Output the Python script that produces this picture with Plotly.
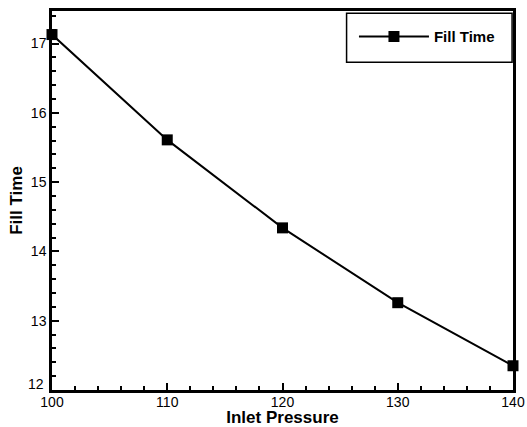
import plotly.graph_objects as go

inlet_pressure = [100, 110, 120, 130, 140]
fill_time = [17.13, 15.61, 14.34, 13.26, 12.35]
series_name = "Fill Time"
x_title = "Inlet Pressure"
y_title = "Fill Time"
y_tick_values = [12, 13, 14, 15, 16, 17]
y_tick_labels = ["12", "13", "14", "15", "16", "17"]

fig = go.Figure()
fig.add_trace(go.Scatter(
    x=inlet_pressure, y=fill_time, name=series_name,
    mode="lines+markers",
    line=dict(color="black", width=2),
    marker=dict(symbol="square", size=11, color="black"),
    cliponaxis=False,
))

font_family = "Liberation Sans, Arial, Helvetica, sans-serif"

# The lowest y label sits slightly raised in the reference (to clear the "100" label)
shown_labels = [""] + y_tick_labels[1:]

fig.update_layout(
    width=527, height=427,
    margin=dict(l=52, r=14, t=11, b=37),
    paper_bgcolor="white", plot_bgcolor="white",
    font=dict(family=font_family, color="black", size=14),
    showlegend=True,
    legend=dict(
        x=0.655, xanchor="left", y=0.932, yanchor="middle",
        borderwidth=0, bgcolor="rgba(0,0,0,0)",
        font=dict(size=15, family=font_family, weight="bold"),
        itemwidth=70,
    ),
    shapes=[dict(
        type="rect", xref="paper", yref="paper",
        x0=0.639, x1=0.998, y0=0.865, y1=0.994,
        line=dict(color="black", width=1.5), fillcolor="white", layer="above",
    )],
    annotations=[dict(
        text=y_tick_labels[0], xref="paper", yref="y", x=0, y=y_tick_values[0],
        xanchor="right", yanchor="middle", xshift=-6, yshift=6,
        showarrow=False, font=dict(size=14),
    )],
    xaxis=dict(
        range=[100, 140], dtick=10, tick0=100,
        showgrid=False, zeroline=False, automargin=False,
        showline=True, linecolor="black", linewidth=2.5, mirror=True,
        ticks="inside", ticklen=7, tickwidth=2, tickcolor="black",
        minor=dict(dtick=2, ticks="inside", ticklen=4, tickwidth=1.5, tickcolor="black"),
        tickfont=dict(size=14), ticklabelstandoff=-3,
        title=dict(text=x_title, font=dict(size=17, weight="bold"), standoff=0),
    ),
    yaxis=dict(
        range=[12, 17.47], tickvals=y_tick_values, ticktext=shown_labels,
        showgrid=False, zeroline=False, automargin=False,
        showline=True, linecolor="black", linewidth=2.5, mirror=True,
        ticks="inside", ticklen=7, tickwidth=2, tickcolor="black",
        minor=dict(dtick=0.2, ticks="inside", ticklen=4, tickwidth=1.5, tickcolor="black"),
        tickfont=dict(size=14),
        title=dict(text=y_title, font=dict(size=17, weight="bold"), standoff=4),
    ),
)

fig.write_html(
    "out.html",
    config={"displayModeBar": False},
    post_script="document.body.style.margin='0';document.body.style.padding='0';document.body.style.overflow='hidden';",
)
